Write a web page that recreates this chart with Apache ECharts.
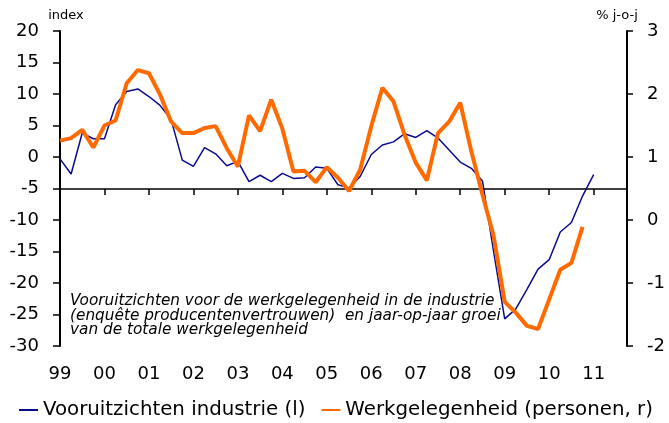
<!DOCTYPE html>
<html>
<head>
<meta charset="utf-8">
<script src="https://cdn.jsdelivr.net/npm/echarts@6/dist/echarts.min.js"></script>
<style>
html,body{margin:0;padding:0;background:#fff;}
#chart{width:669px;height:423px;}
</style>
</head>
<body>
<div id="chart"></div>
<script>
// Years shown on the x axis (quarterly data, label at Q1)
var years = ['99','00','01','02','03','04','05','06','07','08','09','10','11'];
// Vooruitzichten industrie (left axis, index), 1999Q1 .. 2011Q1
var vooruitzichten = [-0.3, -2.7, 3.8, 2.9, 2.9, 8.3, 10.4, 10.8, 9.6, 8.2, 5.9, -0.5,
  -1.5, 1.5, 0.5, -1.4, -0.7, -3.9, -2.9, -3.9, -2.6, -3.4, -3.3, -1.6,
  -1.8, -4.4, -4.9, -3.1, 0.4, 1.9, 2.4, 3.7, 3.1, 4.2, 3.0, 1.1,
  -0.8, -1.8, -3.8, -15.0, -25.7, -24.1, -21.0, -17.8, -16.3, -11.9, -10.4, -6.2,
  -2.8];
// Werkgelegenheid (right axis, % j-o-j), 1999Q1 .. 2010Q4
var werkgelegenheid = [1.26, 1.30, 1.43, 1.15, 1.50, 1.58, 2.17, 2.38, 2.33, 1.99, 1.56, 1.38,
  1.38, 1.46, 1.49, 1.14, 0.85, 1.66, 1.41, 1.91, 1.45, 0.77, 0.78, 0.60,
  0.84, 0.67, 0.46, 0.80, 1.49, 2.10, 1.88, 1.35, 0.91, 0.63, 1.38, 1.56,
  1.86, 1.09, 0.40, -0.25, -1.30, -1.47, -1.68, -1.73, -1.26, -0.79, -0.68, -0.11];
var seriesNames = ['Vooruitzichten industrie (l)', 'Werkgelegenheid (personen, r)'];
var noteText = 'Vooruitzichten voor de werkgelegenheid in de industrie\n(enquête producentenvertrouwen)  en jaar-op-jaar groei\nvan de totale werkgelegenheid';

var quarters = [];
years.forEach(function (y) { for (var q = 1; q <= 4; q++) quarters.push(y + ' K' + q); });

var FONT = 'DejaVu Sans';
var chart = echarts.init(document.getElementById('chart'), null, {renderer: 'canvas'});
chart.setOption({
  animation: false,
  backgroundColor: '#ffffff',
  textStyle: {fontFamily: FONT, color: '#000'},
  grid: {left: 60, right: 42, top: 31, bottom: 77, containLabel: false, outerBoundsMode: 'none'},
  legend: {
    data: seriesNames,
    left: 18,
    top: 400,
    padding: 0,
    itemWidth: 19,
    itemHeight: 12,
    itemGap: 15,
    itemStyle: {opacity: 0},
    textStyle: {fontFamily: FONT, fontSize: 19.8, color: '#000'}
  },
  graphic: [{
    type: 'text',
    left: 70,
    top: 294,
    silent: true,
    style: {
      text: noteText,
      fontFamily: FONT,
      fontStyle: 'italic',
      fontSize: 15.3,
      lineHeight: 14.5,
      fill: '#000'
    }
  }],
  xAxis: [{
    type: 'category',
    data: quarters,
    boundaryGap: false,
    position: 'bottom',
    axisLine: {show: false},
    axisTick: {show: false},
    splitLine: {show: false},
    axisLabel: {
      interval: 3,
      margin: 19,
      fontSize: 18,
      color: '#000',
      fontFamily: FONT,
      formatter: function (v) { return v.split(' ')[0]; }
    }
  }, {
    type: 'category',
    data: quarters,
    boundaryGap: false,
    position: 'bottom',
    offset: -158,
    axisLine: {show: true, lineStyle: {color: '#000', width: 1.5}},
    axisTick: {show: true, interval: 3, length: 6, inside: false, lineStyle: {color: '#000', width: 1.5}},
    axisLabel: {show: false},
    splitLine: {show: false}
  }],
  yAxis: [{
    type: 'value',
    min: -30, max: 20, interval: 5,
    position: 'left',
    name: 'index',
    nameLocation: 'end',
    nameGap: 9,
    nameTextStyle: {fontFamily: FONT, fontSize: 13, color: '#000', padding: [0, 0, 0, 12]},
    axisLine: {show: true, lineStyle: {color: '#000', width: 2}},
    axisTick: {show: true, length: 7, inside: false, lineStyle: {color: '#000', width: 1.5}},
    axisLabel: {margin: 21, fontSize: 18, color: '#000', fontFamily: FONT},
    splitLine: {show: false}
  }, {
    type: 'value',
    min: -2, max: 3, interval: 1,
    position: 'right',
    name: '% j-o-j',
    nameLocation: 'end',
    nameGap: 9,
    nameTextStyle: {fontFamily: FONT, fontSize: 13, color: '#000', padding: [0, 20, 0, 0]},
    axisLine: {show: true, lineStyle: {color: '#000', width: 2}},
    axisTick: {show: true, length: 6, inside: false, lineStyle: {color: '#000', width: 1.5}},
    axisLabel: {margin: 20, fontSize: 18, color: '#000', fontFamily: FONT},
    splitLine: {show: false}
  }],
  series: [{
    name: seriesNames[0],
    type: 'line',
    xAxisIndex: 0,
    yAxisIndex: 0,
    data: vooruitzichten,
    symbol: 'none',
    color: '#0a0a8c',
    lineStyle: {color: '#0a0a8c', width: 1.5},
    z: 3
  }, {
    name: seriesNames[1],
    type: 'line',
    xAxisIndex: 0,
    yAxisIndex: 1,
    data: werkgelegenheid,
    symbol: 'none',
    color: '#ff6a00',
    lineStyle: {color: '#ff6a00', width: 4},
    z: 4
  }]
});
</script>
</body>
</html>
